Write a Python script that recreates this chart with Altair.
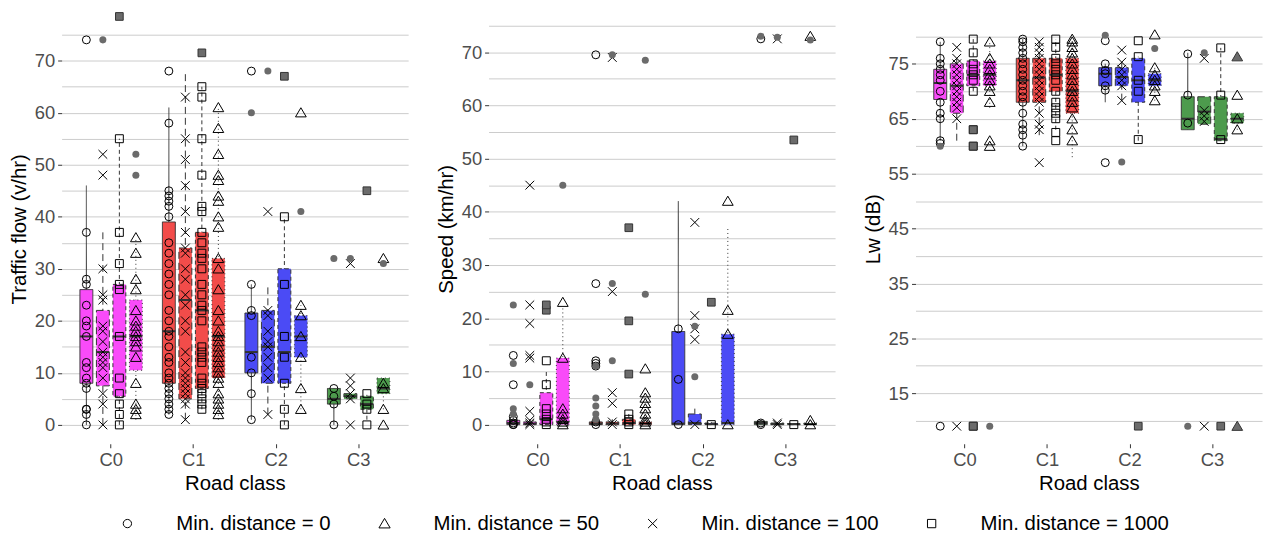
import altair as alt
import pandas as pd

FONT = "Liberation Sans"
CLASSES = ["C0", "C1", "C2", "C3"]
DODGE = ["0", "100", "1000", "50"]          # order of boxes inside a road class
LEGEND_ORDER = ["0", "50", "100", "1000"]
FILLS = ["#F94BF9", "#F24C4A", "#4B4BF5", "#4D9B4D"]
SHAPES = ["circle", "M0,-1.25L1.35,1.05L-1.35,1.05Z", "M-1.1,-1.1L1.1,1.1M-1.1,1.1L1.1,-1.1", "square"]
DASHES = [[1, 0], [7, 4], [4, 3], [1, 3]]

# ---------------- Traffic flow: box stats [lo, q1, median, q3, hi] ----------------
flow_C0 = {"0": [0, 8, 17, 26, 46], "100": [0, 7.5, 14, 22, 37], "1000": [0, 5.5, 17, 27, 55], "50": [1, 10.5, 17, 24, 36]}
flow_C1 = {"0": [2, 8, 18, 39, 61], "100": [1, 5, 24, 34, 68], "1000": [3, 7, 22, 37, 65], "50": [1, 9, 17, 32, 61]}
flow_C2 = {"0": [1, 10, 14, 21.5, 27], "100": [2, 8, 15, 22, 27], "1000": [0, 8, 14, 30, 40], "50": [3, 13, 17, 21, 23]}
flow_C3 = {"0": [0, 4, 5, 7, 7], "100": [5, 5, 5.5, 6, 6], "1000": [1, 3, 4, 5.5, 6], "50": [3, 6, 7, 9, 9]}

flow_pts_C0 = {"0": [0, 2, 3, 3, 7, 8, 9, 11, 12, 17, 19, 20, 23, 27, 28, 37, 74],
               "100": [0, 4, 6, 9, 11, 12, 13, 14, 16, 18, 19, 24, 25, 30, 48, 52],
               "1000": [0, 2, 4, 6, 9, 17, 26, 27, 31, 37, 55],
               "50": [2, 3, 4, 8, 13, 15, 16, 17, 18, 19, 20, 22, 26, 28, 33, 36]}
flow_pts_C1 = {"0": [2, 3, 4, 5, 6, 7, 8, 9, 10, 12, 13, 15, 17, 18, 20, 22, 25, 27, 29, 31, 33, 35, 40, 42, 43, 44, 45, 58, 68],
               "100": [1, 4, 5, 6, 7, 8, 9, 10, 12, 14, 18, 20, 23, 25, 28, 30, 33, 34, 37, 41, 46, 51, 55, 63],
               "1000": [3, 4, 5, 6, 7, 8, 9, 12, 13, 14, 15, 20, 22, 23, 25, 27, 30, 32, 33, 35, 37, 41, 42, 48, 55, 63, 65],
               "50": [2, 3, 4, 5, 6, 8, 9, 10, 11, 12, 13, 14, 15, 16, 17, 18, 20, 22, 26, 30, 32, 38, 40, 43, 44, 47, 48, 52, 57, 61]}
flow_pts_C2 = {"0": [1, 6, 10, 13, 21, 22, 27, 68],
               "100": [2, 9, 11, 13, 15, 16, 18, 21, 22, 41],
               "1000": [0, 3, 8, 13, 17, 27, 40],
               "50": [3, 7, 13, 17, 21, 23, 60]}
flow_pts_C3 = {"0": [0, 4, 5.5, 7], "100": [0, 5, 6, 7.5, 9, 31], "1000": [0, 3, 4, 6], "50": [0, 3, 7, 8, 32]}

flow_out_dot = [("C0", "100", 74), ("C0", "50", 48), ("C0", "50", 52), ("C2", "0", 60), ("C2", "100", 68),
                ("C2", "50", 41), ("C3", "0", 32), ("C3", "100", 32), ("C3", "50", 31)]
flow_out_sq = [("C0", "1000", 78.5), ("C1", "1000", 71.5), ("C2", "1000", 67), ("C3", "1000", 45)]
flow_out_tri = []

# ---------------- Speed ----------------
speed_C0 = {"0": [0, 0, 0.3, 0.8, 1.5], "100": [0, 0, 0.2, 0.5, 1], "1000": [0, 0, 1, 6, 10], "50": [0, 0, 0.5, 12.5, 22]}
speed_C1 = {"0": [0, 0, 0.2, 0.5, 1], "100": [0, 0, 0.2, 0.5, 1], "1000": [0, 0, 0.3, 1, 2], "50": [0, 0, 0.2, 0.5, 1]}
speed_C2 = {"0": [0, 0, 0.2, 17.5, 42], "100": [0, 0, 0.3, 2, 3], "1000": [0, 0, 0.1, 0.3, 0.5], "50": [0, 0, 0.3, 17, 37]}
speed_C3 = {"0": [0, 0, 0.3, 0.6, 0.8], "100": [0, 0, 0.1, 0.3, 0.5], "1000": [0, 0, 0.1, 0.2, 0.3], "50": [0, 0, 0.1, 0.3, 0.5]}

speed_pts_C0 = {"0": [0, 0, 0.3, 0.8, 1.5, 7.5, 13], "100": [0, 0.3, 0.8, 2.5, 12.5, 13, 19, 22.5, 45],
                "1000": [0, 0.5, 1, 2, 3, 7.5, 12], "50": [0, 0.5, 1, 2, 3, 12.5, 23]}
speed_pts_C1 = {"0": [0, 0.5, 11, 11.5, 12, 26.5, 69.5], "100": [0, 0.5, 4, 6, 25, 69],
                "1000": [0, 0.5, 1, 2], "50": [0, 0.5, 1, 2, 3, 4, 5, 6, 10.5]}
speed_pts_C2 = {"0": [0, 8.5, 18], "100": [0, 16, 18, 20.5, 38], "1000": [0], "50": [0, 17, 21.5, 42]}
speed_pts_C3 = {"0": [0, 0.3, 72.5], "100": [0, 0.3, 72.5], "1000": [0], "50": [0, 0.8, 73]}

speed_out_dot = [("C0", "0", 2), ("C0", "0", 3), ("C0", "0", 11.5), ("C0", "0", 22.5), ("C0", "100", 7.5),
                 ("C0", "50", 45), ("C1", "0", 1), ("C1", "0", 2), ("C1", "0", 3.5), ("C1", "0", 5),
                 ("C1", "0", 11), ("C1", "100", 12), ("C1", "100", 26.5), ("C1", "100", 69.5),
                 ("C1", "50", 24.5), ("C1", "50", 68.5), ("C2", "100", 9), ("C2", "100", 18.5),
                 ("C3", "0", 73), ("C3", "100", 72.8), ("C3", "50", 72.3)]
speed_out_sq = [("C0", "1000", 21.5), ("C0", "1000", 22.5), ("C1", "1000", 9.5), ("C1", "1000", 19.5),
                ("C1", "1000", 37), ("C2", "1000", 23), ("C3", "1000", 53.5)]
speed_out_tri = []

# ---------------- Lw ----------------
lw_C0 = {"0": [61, 68.5, 71.5, 74, 79], "100": [61, 66, 71, 75, 76], "1000": [70, 71, 73, 75.5, 79.5], "50": [67, 71, 73, 75.5, 79]}
lw_C1 = {"0": [60, 68, 72, 76, 79.5], "100": [62, 68, 72.5, 76, 79], "1000": [63, 70, 73, 76, 79.5], "50": [58, 66, 70, 76, 79.5]}
lw_C2 = {"0": [68, 71, 73.2, 74.3, 75], "100": [68.3, 71, 72.6, 74.3, 75.3], "1000": [61, 68, 72, 76, 76.3], "50": [68.3, 71, 72, 73.2, 74.3]}
lw_C3 = {"0": [63, 63, 65, 69, 77], "100": [64, 64, 66.3, 69, 69], "1000": [61, 61, 61.3, 69, 77.9], "50": [63, 64.2, 65, 66, 66]}

lw_pts_C0 = {"0": [9, 60.5, 61, 65, 66, 68, 70, 72, 73, 74, 75, 76, 79],
             "100": [9, 65, 67, 68, 69, 70, 71, 72, 73, 74, 75, 76, 78],
             "1000": [9, 60, 63, 70, 72, 73, 74, 75, 77, 79.5],
             "50": [60, 61, 68, 70, 71, 72, 73, 74, 75, 76, 79]}
lw_pts_C1 = {"0": [60, 62, 63, 64, 66, 68, 69, 70, 71, 72, 73, 74, 75, 76, 77, 78, 79, 79.5],
             "100": [57, 63, 64, 66, 68, 69, 70, 71, 72, 73, 74, 75, 76, 77, 78, 79],
             "1000": [61, 62.5, 65, 66, 67, 68, 70, 72, 73, 74, 75, 76, 78, 79.5],
             "50": [61, 63, 65, 67, 68, 69, 70, 71, 72, 73, 74, 75, 76, 77, 78, 79, 79.5]}
lw_pts_C2 = {"0": [57, 70.2, 71, 73.2, 73.8, 75, 79.2], "100": [68.3, 71, 72, 73, 74, 75.3, 77.5],
             "1000": [61.2, 70, 72, 76.3, 79.2], "50": [68.3, 70, 71, 72, 73, 74.3, 80.3]}
lw_pts_C3 = {"0": [64.2, 69.3, 76.8], "100": [9, 64.5, 65.5, 66.5, 76], "1000": [61.2, 69.3, 77.9], "50": [63, 65, 69.3]}

lw_out_dot = [("C0", "0", 60), ("C0", "50", 9), ("C2", "0", 80.2), ("C2", "100", 57.1), ("C2", "50", 77.8),
              ("C3", "0", 9), ("C3", "100", 77)]
lw_out_sq = [("C0", "1000", 9), ("C0", "1000", 60), ("C0", "1000", 63), ("C2", "1000", 9), ("C3", "1000", 9)]
lw_out_tri = [("C3", "50", 9), ("C3", "50", 76.3)]

GRID5 = list(range(0, 80, 5))
GRID5_LW = list(range(10, 85, 5))


def box_frame(boxes):
    rows = []
    for cls, d in zip(CLASSES, boxes):
        for dist in DODGE:
            lo, q1, med, q3, hi = d[dist]
            rows.append(dict(cls=cls, dist=dist, lo=lo, q1=q1, med=med, q3=q3, hi=hi))
    return pd.DataFrame(rows)


def point_frame(pts):
    rows = []
    for cls, d in zip(CLASSES, pts):
        for dist in DODGE:
            for v in d[dist]:
                rows.append(dict(cls=cls, dist=dist, v=v))
    return pd.DataFrame(rows)


def out_frame(items):
    return pd.DataFrame([dict(cls=c, dist=s, v=v) for c, s, v in items])


LEGEND = alt.Legend(title=None, orient="none", legendX=56, legendY=503, direction="horizontal", columns=4,
                    columnPadding=43, labelOffset=39, symbolSize=70, symbolStrokeWidth=1,
                    symbolStrokeColor="black", symbolFillColor="transparent", labelFontSize=20.5,
                    labelFont=FONT, labelColor="black", labelLimit=400, padding=0,
                    labelExpr="'Min. distance = ' + datum.label")


def panel(boxes, pts, out_dot, out_sq, out_tri, ydomain, yvalues, test, ytitle):
    bdf = box_frame(boxes)
    pdf = point_frame(pts)
    yscale = alt.Scale(domain=ydomain, nice=False, zero=False)
    yaxis = alt.Axis(title=ytitle, values=yvalues, labelExpr=f"({test}) ? datum.label : ''",
                     tickColor={"condition": {"test": test, "value": "#333333"}, "value": "transparent"})
    X = alt.X("cls:N", scale=alt.Scale(domain=CLASSES, paddingInner=0.2, paddingOuter=0.2),
              axis=alt.Axis(title="Road class", labelAngle=0, bandPosition=0.5))
    XO = alt.XOffset("dist:N", scale=alt.Scale(domain=DODGE, paddingInner=0, paddingOuter=0))
    dash = alt.StrokeDash("dist:N", scale=alt.Scale(domain=DODGE, range=DASHES), legend=None)

    whisk = alt.Chart(bdf).mark_rule(color="#333333", strokeWidth=1).encode(
        x=X, xOffset=XO, y=alt.Y("lo:Q", scale=yscale, axis=yaxis), y2="hi:Q", strokeDash=dash)
    box = alt.Chart(bdf).mark_bar(size=13, stroke="#333333", strokeWidth=1, opacity=1).encode(
        x=X, xOffset=XO, y=alt.Y("q1:Q", scale=yscale, axis=yaxis), y2="q3:Q",
        fill=alt.Fill("cls:N", scale=alt.Scale(domain=CLASSES, range=FILLS), legend=None),
        strokeDash=dash)
    med = alt.Chart(bdf).mark_tick(size=13, thickness=2, color="#333333", opacity=1).encode(
        x=X, xOffset=XO, y=alt.Y("med:Q", scale=yscale, axis=yaxis))
    points = alt.Chart(pdf).mark_point(filled=False, color="black", size=64, strokeWidth=1, opacity=1).encode(
        x=X, xOffset=XO, y=alt.Y("v:Q", scale=yscale, axis=yaxis),
        shape=alt.Shape("dist:N", scale=alt.Scale(domain=LEGEND_ORDER, range=SHAPES), legend=LEGEND))
    layers = [whisk, box, med, points]
    if out_dot:
        layers.append(alt.Chart(out_frame(out_dot)).mark_point(
            shape="circle", filled=True, fill="#6b6b6b", strokeWidth=0, size=50, opacity=1).encode(
            x=X, xOffset=XO, y=alt.Y("v:Q", scale=yscale, axis=yaxis)))
    if out_sq:
        layers.append(alt.Chart(out_frame(out_sq)).mark_point(
            shape="square", filled=True, fill="#6b6b6b", stroke="#333333", strokeWidth=1, size=60, opacity=1).encode(
            x=X, xOffset=XO, y=alt.Y("v:Q", scale=yscale, axis=yaxis)))
    if out_tri:
        layers.append(alt.Chart(out_frame(out_tri)).mark_point(
            shape=SHAPES[1], filled=True, fill="#6b6b6b", stroke="#333333", strokeWidth=1, size=64, opacity=1).encode(
            x=X, xOffset=XO, y=alt.Y("v:Q", scale=yscale, axis=yaxis)))
    return alt.layer(*layers).properties(width=349, height=433)


p1 = panel([flow_C0, flow_C1, flow_C2, flow_C3], [flow_pts_C0, flow_pts_C1, flow_pts_C2, flow_pts_C3],
           flow_out_dot, flow_out_sq, flow_out_tri, [-3.63, 79.0], GRID5, "datum.value % 10 === 0",
           "Traffic flow (v/hr)")
p2 = panel([speed_C0, speed_C1, speed_C2, speed_C3], [speed_pts_C0, speed_pts_C1, speed_pts_C2, speed_pts_C3],
           speed_out_dot, speed_out_sq, speed_out_tri, [-3.6, 77.2], GRID5, "datum.value % 10 === 0",
           "Speed (km/hr)")
p3 = panel([lw_C0, lw_C1, lw_C2, lw_C3], [lw_pts_C0, lw_pts_C1, lw_pts_C2, lw_pts_C3],
           lw_out_dot, lw_out_sq, lw_out_tri, [5.8, 84.1], GRID5_LW, "(datum.value + 5) % 10 === 0",
           "Lw (dB)")

chart = alt.hconcat(p1, p2, p3, spacing=26).properties(
    padding={"left": 0, "top": 0, "right": 0, "bottom": 0}
).configure(font=FONT).configure_view(stroke="transparent").configure_axis(
    gridColor="#cccccc", gridWidth=1, domain=False, tickSize=4, tickColor="#333333",
    labelFontSize=18.5, labelColor="#4d4d4d", titleFontSize=20.5, titleColor="black",
    titleFontWeight="normal", labelFont=FONT, titleFont=FONT, labelPadding=3, titlePadding=5
)

chart.save("out.html", embed_options={"renderer": "svg", "actions": False})
